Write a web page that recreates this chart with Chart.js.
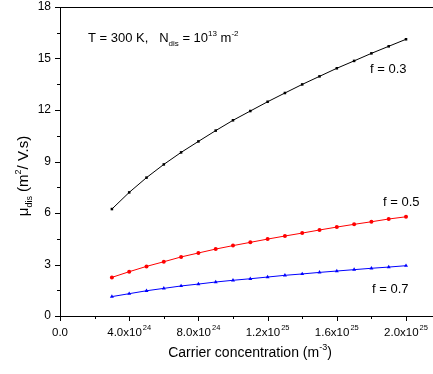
<!DOCTYPE html>
<html>
<head>
<meta charset="utf-8">
<script src="https://cdn.jsdelivr.net/npm/chart.js@4"></script>
<style>
  html, body { margin: 0; padding: 0; background: #fff; overflow: hidden; }
  #wrap { width: 433px; height: 374px; position: relative; }
  canvas { display: block; }
</style>
</head>
<body>
<div id="wrap"><canvas id="mob"></canvas></div>
<script>
// carrier concentration (m^-3)
const carrier = [3e24, 4e24, 5e24, 6e24, 7e24, 8e24, 9e24, 1.0e25, 1.1e25, 1.2e25,
                 1.3e25, 1.4e25, 1.5e25, 1.6e25, 1.7e25, 1.8e25, 1.9e25, 2.0e25];
// mobility values
const f03 = [6.23, 7.20, 8.06, 8.83, 9.53, 10.17, 10.80, 11.40, 11.94, 12.48,
             12.99, 13.49, 13.96, 14.43, 14.86, 15.30, 15.71, 16.12];
const f05 = [2.25, 2.58, 2.89, 3.16, 3.44, 3.67, 3.90, 4.10, 4.29, 4.48,
             4.66, 4.83, 5.01, 5.18, 5.34, 5.49, 5.65, 5.78];
const f07 = [1.13, 1.30, 1.47, 1.61, 1.75, 1.86, 1.98, 2.08, 2.17, 2.27,
             2.37, 2.45, 2.54, 2.62, 2.70, 2.78, 2.85, 2.93];

// tick positions
const xMajor = [0, 4e24, 8e24, 1.2e25, 1.6e25, 2.0e25];
const xLabels = [['0.0', ''], ['4.0x10', '24'], ['8.0x10', '24'], ['1.2x10', '25'], ['1.6x10', '25'], ['2.0x10', '25']];
const xMinor = [2e24, 6e24, 1.0e25, 1.4e25, 1.8e25];
const yMajor = [0, 3, 6, 9, 12, 15, 18];
const yMinor = [1.5, 4.5, 7.5, 10.5, 13.5, 16.5];

const FONT = '"Liberation Sans", Arial, sans-serif';

function pts(ys) {
    return carrier.map((x, i) => ({x: x, y: ys[i]}));
}

// draws ticks, tick labels, top frame line and the texts with super/subscripts
const decor = {
    id: 'decor',
    afterDraw(chart) {
        const ctx = chart.ctx;
        const xs = chart.scales.x, ys = chart.scales.y;
        const a = chart.chartArea;
        ctx.save();
        ctx.strokeStyle = '#000';
        ctx.lineWidth = 1;
        // top frame
        ctx.beginPath();
        ctx.moveTo(a.left, a.top + 0.5);
        ctx.lineTo(a.right, a.top + 0.5);
        ctx.stroke();
        // x ticks (outward)
        ctx.beginPath();
        xMajor.forEach(v => { const p = Math.round(xs.getPixelForValue(v)) + 0.5; ctx.moveTo(p, a.bottom); ctx.lineTo(p, a.bottom + 5); });
        xMinor.forEach(v => { const p = Math.round(xs.getPixelForValue(v)) + 0.5; ctx.moveTo(p, a.bottom); ctx.lineTo(p, a.bottom + 3); });
        // y ticks (outward)
        yMajor.forEach(v => { const p = Math.round(ys.getPixelForValue(v)) + 0.5; ctx.moveTo(a.left, p); ctx.lineTo(a.left - 5, p); });
        yMinor.forEach(v => { const p = Math.round(ys.getPixelForValue(v)) + 0.5; ctx.moveTo(a.left, p); ctx.lineTo(a.left - 3, p); });
        ctx.stroke();

        ctx.fillStyle = '#000';
        // y tick labels
        ctx.font = '12px ' + FONT;
        ctx.textAlign = 'right';
        ctx.textBaseline = 'middle';
        yMajor.forEach(v => ctx.fillText(String(v), a.left - 9, ys.getPixelForValue(v)));

        // x tick labels with exponent
        ctx.textBaseline = 'alphabetic';
        ctx.textAlign = 'left';
        xMajor.forEach((v, i) => {
            const [m, e] = xLabels[i];
            ctx.font = '11.5px ' + FONT;
            const w1 = ctx.measureText(m).width + (e ? 1 : 0);
            ctx.font = '7.5px ' + FONT;
            const w2 = e ? ctx.measureText(e).width : 0;
            const x0 = xs.getPixelForValue(v) - (w1 + w2) / 2;
            ctx.font = '11.5px ' + FONT;
            ctx.fillText(m, x0, a.bottom + 20);
            if (e) { ctx.font = '7.5px ' + FONT; ctx.fillText(e, x0 + w1, a.bottom + 14); }
        });

        // rich text helper: parts = [text, kind] kind: n normal, u super, d sub
        function rich(parts, x, y, size, align) {
            const small = Math.round(size * 0.62);
            let total = 0;
            parts.forEach(p => { ctx.font = (p[1] === 'n' ? size : small) + 'px ' + FONT; total += ctx.measureText(p[0]).width; });
            let cx = align === 'center' ? x - total / 2 : x;
            ctx.textAlign = 'left';
            ctx.textBaseline = 'alphabetic';
            parts.forEach(p => {
                ctx.font = (p[1] === 'n' ? size : small) + 'px ' + FONT;
                const dy = p[1] === 'u' ? -size * 0.48 : (p[1] === 'd' ? size * 0.28 : 0);
                ctx.fillText(p[0], cx, y + dy);
                cx += ctx.measureText(p[0]).width;
            });
        }

        // x axis title
        rich([['Carrier concentration (m', 'n'], ['-3', 'u'], [')', 'n']], 250, 357, 14, 'center');

        // y axis title, rotated
        ctx.save();
        ctx.translate(28, 176);
        ctx.rotate(-Math.PI / 2);
        rich([['\u03bc', 'n'], ['dis', 'd'], [' (m', 'n'], ['2', 'u'], ['/ V.s)', 'n']], 0, 0, 15, 'center');
        ctx.restore();

        // annotations
        rich([['T = 300 K,   N', 'n'], ['dis', 'd'], [' = 10', 'n'], ['13', 'u'], [' m', 'n'], ['-2', 'u']], 88, 42, 13, 'left');
        rich([['f = 0.3', 'n']], 370, 73, 13, 'left');
        rich([['f = 0.5', 'n']], 383, 206, 13, 'left');
        rich([['f = 0.7', 'n']], 372, 293, 13, 'left');
        ctx.restore();
    }
};

const chart = new Chart(document.getElementById('mob'), {
    type: 'line',
    data: {
        datasets: [
            { label: 'f = 0.3', data: pts(f03), borderColor: '#000', backgroundColor: '#000',
              borderWidth: 1, pointStyle: 'rect', pointRadius: 1.8, pointBorderWidth: 0 },
            { label: 'f = 0.5', data: pts(f05), borderColor: '#ff0000', backgroundColor: '#ff0000',
              borderWidth: 1, pointStyle: 'circle', pointRadius: 2, pointBorderWidth: 0 },
            { label: 'f = 0.7', data: pts(f07), borderColor: '#0000ff', backgroundColor: '#0000ff',
              borderWidth: 1, pointStyle: 'triangle', pointRadius: 2.3, pointBorderWidth: 0 }
        ]
    },
    options: {
        responsive: true,
        maintainAspectRatio: false,
        animation: false,
        layout: { padding: { top: 7, right: 0, left: 0, bottom: 0 }, autoPadding: false },
        scales: {
            x: {
                type: 'linear',
                min: 0,
                max: 2.156e25,
                grid: { display: false },
                border: { display: true, color: '#000', width: 1 },
                ticks: { display: false },
                afterFit(s) { s.height = 58; }
            },
            y: {
                min: 0,
                max: 18,
                grid: { display: false },
                border: { display: true, color: '#000', width: 1 },
                ticks: { display: false },
                afterFit(s) { s.width = 60; }
            }
        },
        plugins: {
            legend: { display: false },
            tooltip: { enabled: false }
        }
    },
    plugins: [decor]
});
</script>
</body>
</html>
